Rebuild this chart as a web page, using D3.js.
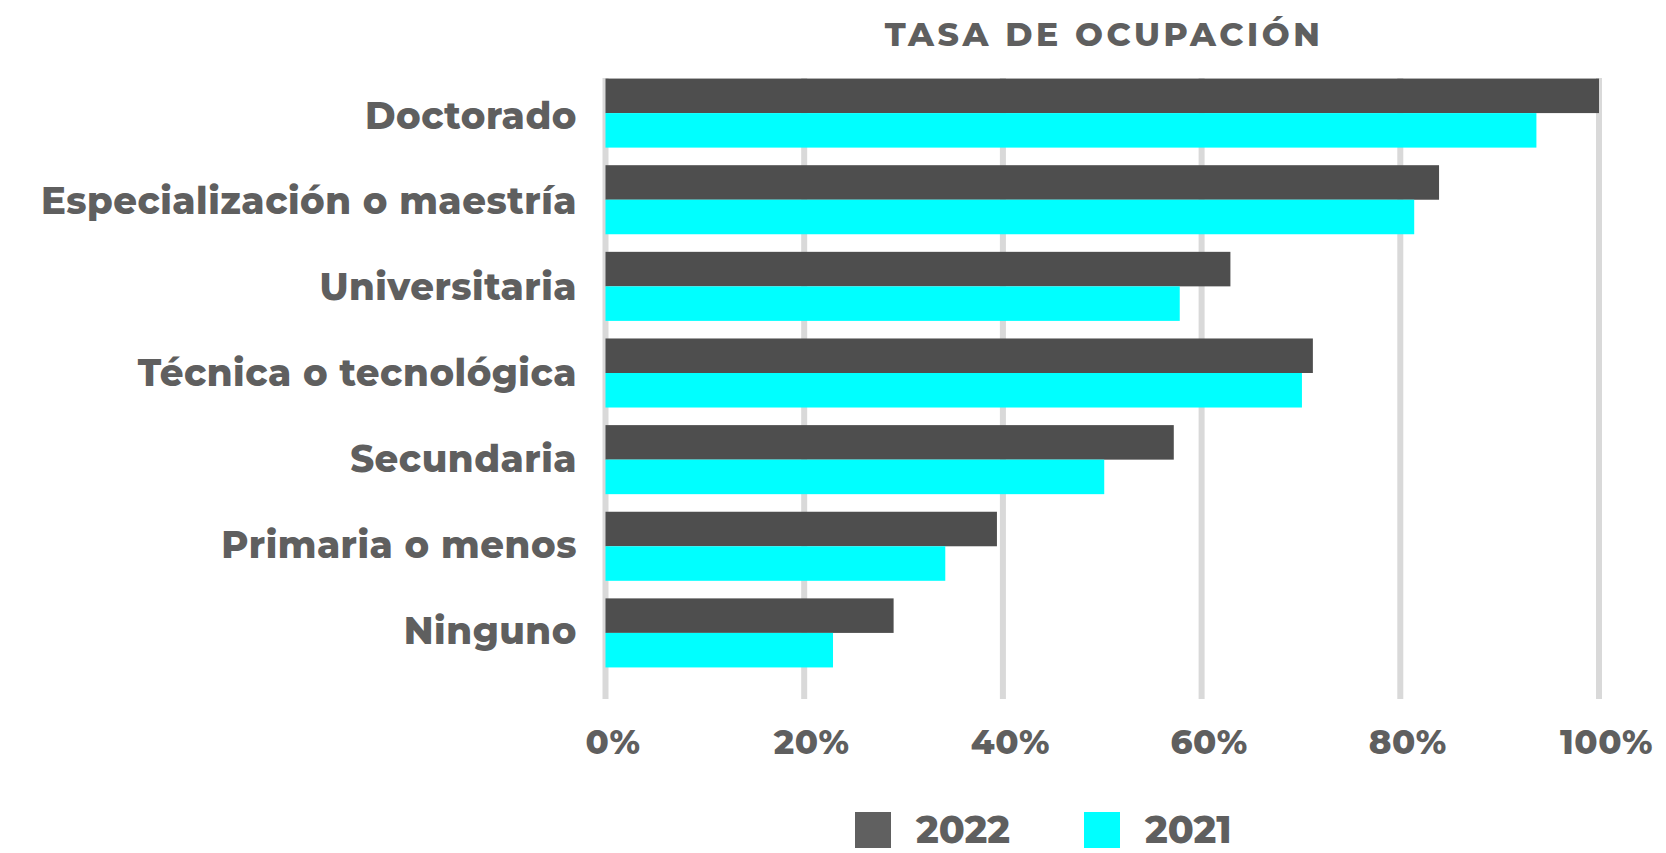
<!DOCTYPE html>
<html>
<head>
<meta charset="utf-8">
<script src="https://cdn.jsdelivr.net/npm/d3@7"></script>
<style>
  body { margin: 0; background: #fff; }
  svg { display: block; font-family: Montserrat, "Open Sans", sans-serif; font-weight: 800; }
</style>
</head>
<body>
<script>
const width = 1666;
const height = 853;

const categories = [
  "Doctorado",
  "Especialización o maestría",
  "Universitaria",
  "Técnica o tecnológica",
  "Secundaria",
  "Primaria o menos",
  "Ninguno",
];
const series = ["2022", "2021"];
const values2022 = [100, 83.9, 62.9, 71.2, 57.2, 39.4, 29.0];
const values2021 = [93.7, 81.4, 57.8, 70.1, 50.2, 34.2, 22.9];
const ticks = [0, 20, 40, 60, 80, 100];
const colors = ["#4e4e4e", "#00ffff"];
const legendColors = ["#606060", "#00ffff"];
const textColor = "#5f5f5f";
const fontFamily = 'Montserrat, "Open Sans", sans-serif';

const svg = d3.select("body").append("svg").attr("width", width).attr("height", height);

const x = d3.scaleLinear().domain([0, 100]).range([605.5, 1599]);
const y = d3.scaleBand().domain(categories).range([69.9, 676.1])
  .paddingInner(0.203).paddingOuter(0.1);
const ySub = d3.scaleBand().domain(series).range([0, y.bandwidth()]);
// labels sit on a slightly tighter spacing than the bars
const yLabel = d3.scalePoint().domain(categories).range([114.5, 630]);

// title
svg.append("text")
  .attr("x", (x(0) + x(100)) / 2 + 1.8)
  .attr("y", 46)
  .attr("text-anchor", "middle")
  .attr("font-size", 33)
  .attr("letter-spacing", 3.6)
  .attr("fill", textColor)
  .text("TASA DE OCUPACIÓN");

// gridlines
svg.append("g")
  .selectAll("line")
  .data(ticks)
  .join("line")
  .attr("x1", (d) => x(d))
  .attr("x2", (d) => x(d))
  .attr("y1", 78)
  .attr("y2", 699)
  .attr("stroke", "#d9d9d9")
  .attr("stroke-width", 6);

// bars
const rows = categories.map((c, i) => ({ cat: c, vals: [values2022[i], values2021[i]] }));
const group = svg.append("g")
  .selectAll("g")
  .data(rows)
  .join("g")
  .attr("transform", (d) => `translate(0,${y(d.cat)})`);

group.selectAll("rect")
  .data((d) => d.vals.map((v, j) => ({ key: series[j], v: v, j: j })))
  .join("rect")
  .attr("x", x(0))
  .attr("y", (d) => ySub(d.key))
  .attr("width", (d) => x(d.v) - x(0))
  .attr("height", ySub.bandwidth())
  .attr("fill", (d) => colors[d.j]);

// category labels
const yAxis = d3.axisLeft(yLabel).tickSize(0).tickPadding(0);
const yg = svg.append("g").attr("transform", "translate(577,0)").call(yAxis)
  .attr("font-family", fontFamily)
  .attr("font-size", 37);
yg.select(".domain").remove();
yg.selectAll("text")
  .attr("fill", textColor)
  .attr("letter-spacing", 0.5)
  .attr("dy", 13.5);

// x tick labels
const xAxis = d3.axisBottom(x).tickValues(ticks).tickSize(0).tickPadding(0)
  .tickFormat((d) => d + "%");
const xg = svg.append("g").attr("transform", "translate(7,754)").call(xAxis)
  .attr("font-family", fontFamily)
  .attr("font-size", 34);
xg.select(".domain").remove();
xg.selectAll("text")
  .attr("fill", textColor)
  .attr("letter-spacing", 0.5)
  .attr("dy", 0);

// legend
const legendX = [855, 1084];
const legend = svg.append("g")
  .selectAll("g")
  .data(series)
  .join("g")
  .attr("transform", (d, i) => `translate(${legendX[i]},812)`);
legend.append("rect")
  .attr("width", 36)
  .attr("height", 36)
  .attr("fill", (d, i) => legendColors[i]);
legend.append("text")
  .attr("x", 61)
  .attr("y", 31)
  .attr("font-size", 38)
  .attr("fill", textColor)
  .text((d) => d);
</script>
</body>
</html>
